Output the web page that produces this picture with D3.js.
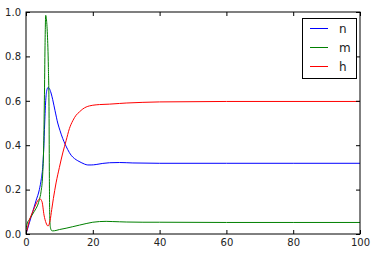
<!DOCTYPE html>
<html>
<head>
<meta charset="utf-8">
<script src="https://cdn.jsdelivr.net/npm/d3@7"></script>
<style>
  body { margin: 0; background: #fff; }
  svg { display: block; font-family: "DejaVu Sans", sans-serif; }
</style>
</head>
<body>
<div id="chart"></div>
<script>
// time points (ms) and gating variables
const nT = [0, 1, 2, 3, 4, 4.6, 5, 5.3, 5.6, 5.9, 6.2, 6.6, 7, 7.5, 8, 8.7, 9.5, 10.2, 11, 11.7, 12.5, 13.5, 14.5, 15.5, 16.5, 17.5, 18.5, 19.5, 21, 23, 25, 28, 32, 40, 60, 80, 100];
const nV = [0.0, 0.05, 0.1, 0.15, 0.2, 0.25, 0.3, 0.38, 0.5, 0.6, 0.645, 0.66, 0.655, 0.635, 0.605, 0.555, 0.5, 0.465, 0.43, 0.405, 0.38, 0.355, 0.34, 0.33, 0.322, 0.315, 0.311, 0.311, 0.313, 0.318, 0.321, 0.322, 0.32, 0.3185, 0.3185, 0.3185, 0.3185];

const mT = [0, 0.4, 1, 2, 3, 3.5, 4, 4.5, 5, 5.3, 5.5, 5.7, 5.9, 6.1, 6.4, 6.7, 6.9, 7.0, 7.1, 7.3, 7.7, 8, 9, 10, 12, 14, 16, 18, 20, 22, 24, 26, 28, 30, 35, 40, 60, 80, 100];
const mV = [0.02, 0.05, 0.065, 0.09, 0.115, 0.13, 0.155, 0.19, 0.27, 0.4, 0.6, 0.85, 0.985, 0.97, 0.9, 0.75, 0.55, 0.25, 0.08, 0.03, 0.015, 0.014, 0.016, 0.02, 0.026, 0.033, 0.04, 0.047, 0.053, 0.056, 0.057, 0.056, 0.055, 0.054, 0.053, 0.053, 0.052, 0.052, 0.052];

const hT = [0, 0.5, 1, 2, 3, 3.5, 4.2, 4.8, 5.4, 6, 6.6, 7.2, 7.7, 8.2, 9, 10, 11, 12, 13, 14, 15, 16, 17, 18, 19, 20, 22, 25, 28, 30, 35, 40, 50, 60, 100];
const hV = [0.0, 0.03, 0.06, 0.1, 0.135, 0.15, 0.158, 0.145, 0.085, 0.05, 0.036, 0.06, 0.11, 0.16, 0.23, 0.3, 0.365, 0.42, 0.475, 0.51, 0.535, 0.55, 0.563, 0.572, 0.577, 0.58, 0.583, 0.585, 0.588, 0.59, 0.593, 0.595, 0.596, 0.597, 0.597];

const seriesNames = ["n", "m", "h"];
const seriesColors = ["#0000ff", "#008000", "#ff0000"];
const xTicks = [0, 20, 40, 60, 80, 100];
const yTicks = [0.0, 0.2, 0.4, 0.6, 0.8, 1.0];

const width = 376, height = 256;
const margin = {left: 26, right: 16, top: 12, bottom: 22};
const font = "DejaVu Sans, sans-serif";

const svg = d3.select("#chart").append("svg")
  .attr("width", width)
  .attr("height", height);

const x = d3.scaleLinear().domain([0, 100]).range([margin.left, width - margin.right]);
const y = d3.scaleLinear().domain([0, 1]).range([height - margin.bottom, margin.top]);

const series = [
  {name: seriesNames[0], color: seriesColors[0], pts: d3.zip(nT, nV)},
  {name: seriesNames[1], color: seriesColors[1], pts: d3.zip(mT, mV)},
  {name: seriesNames[2], color: seriesColors[2], pts: d3.zip(hT, hV)},
];

svg.append("clipPath").attr("id", "clip")
  .append("rect")
  .attr("x", x(0)).attr("y", y(1))
  .attr("width", x(100) - x(0)).attr("height", y(0) - y(1));

const line = d3.line()
  .x(d => x(d[0]))
  .y(d => y(d[1]))
  .curve(d3.curveMonotoneX);

svg.append("g").attr("clip-path", "url(#clip)")
  .selectAll("path")
  .data(series)
  .join("path")
  .attr("d", d => line(d.pts))
  .attr("fill", "none")
  .attr("stroke", d => d.color)
  .attr("stroke-width", 1);

// axes with inward ticks on all four sides
const tickLen = 4;
const axBottom = svg.append("g")
  .attr("transform", `translate(0,${y(0)})`)
  .call(d3.axisBottom(x).tickValues(xTicks).tickSize(-tickLen).tickPadding(5).tickFormat(d3.format("d")));
const axTop = svg.append("g")
  .attr("transform", `translate(0,${y(1)})`)
  .call(d3.axisTop(x).tickValues(xTicks).tickSize(-tickLen).tickFormat(""));
const axLeft = svg.append("g")
  .attr("transform", `translate(${x(0)},0)`)
  .call(d3.axisLeft(y).tickValues(yTicks).tickSize(-tickLen).tickPadding(5).tickFormat(d3.format(".1f")));
const axRight = svg.append("g")
  .attr("transform", `translate(${x(100)},0)`)
  .call(d3.axisRight(y).tickValues(yTicks).tickSize(-tickLen).tickFormat(""));

[axBottom, axTop, axLeft, axRight].forEach(g => {
  g.attr("font-family", font).attr("font-size", 10);
  g.select(".domain").remove();
  g.selectAll("line").attr("stroke", "#000").attr("stroke-width", 1);
  g.selectAll("text").attr("fill", "#222");
});

svg.append("rect")
  .attr("x", x(0)).attr("y", y(1))
  .attr("width", x(100) - x(0)).attr("height", y(0) - y(1))
  .attr("fill", "none")
  .attr("stroke", "#000")
  .attr("stroke-width", 1);

// legend
const lg = svg.append("g").attr("transform", "translate(302,18)");
lg.append("rect")
  .attr("x", 0.5).attr("y", 0.5)
  .attr("width", 54).attr("height", 60)
  .attr("fill", "#fff").attr("stroke", "#000").attr("stroke-width", 1);
const items = lg.selectAll("g.item")
  .data(series)
  .join("g")
  .attr("class", "item")
  .attr("transform", (d, i) => `translate(0,${10.5 + i * 19})`);
items.append("line")
  .attr("x1", 8).attr("x2", 26)
  .attr("stroke", d => d.color).attr("stroke-width", 1);
items.append("text")
  .attr("x", 37).attr("dy", "0.35em")
  .attr("font-family", font)
  .attr("font-size", 12)
  .attr("fill", "#222")
  .text(d => d.name);
</script>
</body>
</html>
